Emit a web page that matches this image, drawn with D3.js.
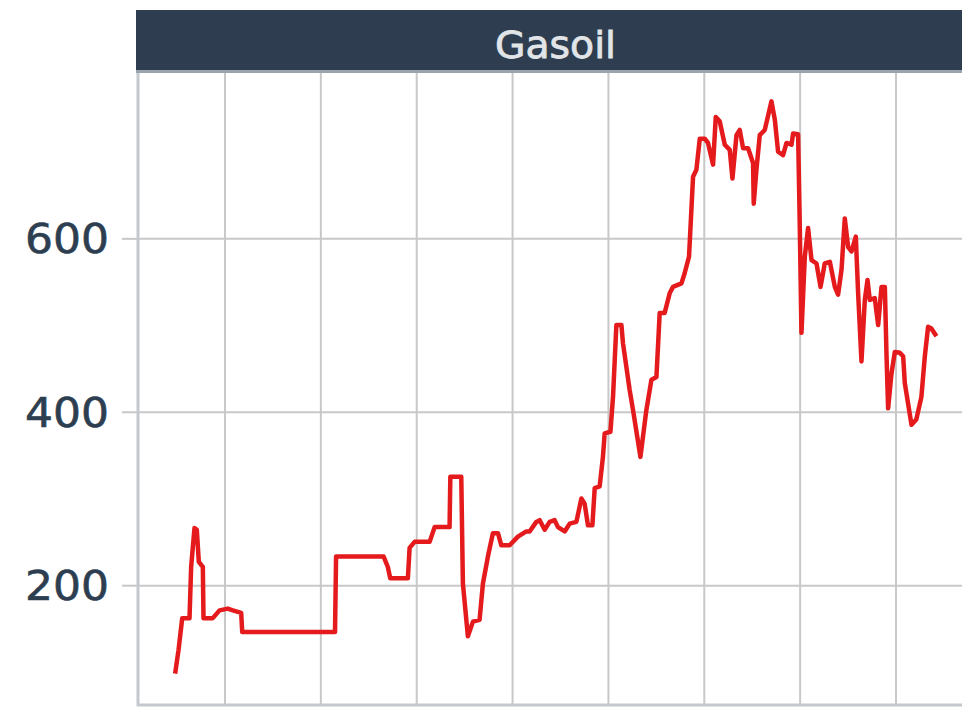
<!DOCTYPE html>
<html lang="fr">
<head>
  <meta charset="UTF-8" />
  <title>Gasoil</title>
  <script src="https://d3js.org/d3.v7.min.js"></script>
  <style>
    body { margin: 0; background: #fff; }
    svg { display: block; }
    .grid line { stroke: #c8c8c8; stroke-width: 2; }
    .grid .domain { display: none; }
    .yaxis line { stroke: #c8c8c8; stroke-width: 2; }
    .yaxis .domain { display: none; }
    .yaxis text { font-family: "DejaVu Sans", Verdana, sans-serif; font-size: 40px; fill: #2c3e50; stroke: #2c3e50; stroke-width: 0.6px; }
    .strip text { font-family: "DejaVu Sans", Verdana, sans-serif; font-size: 38px; fill: #e2e5e8; stroke: #e2e5e8; stroke-width: 0.8px; }
  </style>
</head>
<body>
  <div id="chart"></div>

  <script>
    const width = 962, height = 709;

    // panneau
    const panelTitle = "Gasoil";

    // dates (années décimales) et prix
    const years = [
      2000.485, 2000.520, 2000.559, 2000.635, 2000.652, 2000.687, 2000.711, 2000.732, 2000.774, 2000.781,
      2000.878, 2000.948, 2001.034, 2001.087, 2001.174, 2001.185, 2002.153, 2002.164, 2002.660, 2002.704,
      2002.729, 2002.913, 2002.931, 2002.983, 2003.140, 2003.192, 2003.348, 2003.356, 2003.470, 2003.487,
      2003.539, 2003.592, 2003.661, 2003.696, 2003.748, 2003.800, 2003.853, 2003.888, 2003.975, 2004.061,
      2004.149, 2004.183, 2004.253, 2004.288, 2004.340, 2004.392, 2004.444, 2004.479, 2004.549, 2004.601,
      2004.671, 2004.723, 2004.757, 2004.792, 2004.838, 2004.862, 2004.914, 2004.948, 2004.966, 2005.026,
      2005.053, 2005.088, 2005.141, 2005.157, 2005.227, 2005.262, 2005.339, 2005.401, 2005.454, 2005.506,
      2005.540, 2005.592, 2005.645, 2005.679, 2005.767, 2005.801, 2005.846, 2005.888, 2005.923, 2005.958,
      2006.010, 2006.044, 2006.097, 2006.125, 2006.166, 2006.219, 2006.271, 2006.299, 2006.341, 2006.375,
      2006.410, 2006.462, 2006.514, 2006.521, 2006.549, 2006.584, 2006.636, 2006.706, 2006.741, 2006.775,
      2006.827, 2006.863, 2006.915, 2006.932, 2006.984, 2007.001, 2007.019, 2007.054, 2007.088, 2007.124,
      2007.176, 2007.218, 2007.262, 2007.315, 2007.367, 2007.401, 2007.437, 2007.471, 2007.506, 2007.541,
      2007.586, 2007.610, 2007.645, 2007.680, 2007.708, 2007.732, 2007.784, 2007.819, 2007.854, 2007.889,
      2007.906, 2007.923, 2007.958, 2007.993, 2008.045, 2008.080, 2008.097, 2008.167, 2008.217, 2008.270,
      2008.306, 2008.340, 2008.374, 2008.427
    ];
    const gasoil = [
      98, 125, 162, 162, 221, 266, 264, 227, 221, 162,
      162, 171, 173, 171, 168, 146, 146, 233, 233, 221,
      208, 208, 243, 250, 250, 267, 267, 325, 325, 202,
      141, 158, 160, 202, 233, 260, 260, 246, 246, 256,
      262, 262, 273, 275, 264, 273, 275, 267, 262, 271,
      273, 300, 294, 269, 269, 312, 314, 348, 375, 377,
      417, 500, 500, 479, 425, 402, 348, 402, 437, 440,
      514, 514, 537, 544, 548, 560, 579, 671, 679, 715,
      715, 710, 685, 740, 735, 708, 702, 669, 719, 725,
      704, 704, 687, 640, 679, 719, 725, 758, 737, 700,
      696, 710, 708, 721, 720, 617, 491, 579, 612, 575,
      571, 544, 571, 573, 544, 535, 564, 623, 590, 585,
      602, 537, 458, 529, 552, 529, 531, 500, 544, 544,
      466, 404, 444, 469, 468, 464, 433, 385, 391, 417,
      464, 498, 496, 487
    ];

    // graduations
    const yTicks = [200, 400, 600];
    const xGrid = [2001, 2002, 2003, 2004, 2005, 2006, 2007, 2008];

    const panel = { left: 137, right: 962, top: 71, bottom: 704 };

    const x = d3.scaleLinear().domain([2001, 2008]).range([224.5, 895.5]);
    const y = d3.scaleLinear().domain([63, 793]).range([panel.bottom, panel.top]);

    const svg = d3.select('#chart').append('svg')
      .attr('width', width)
      .attr('height', height);

    svg.append('defs').append('clipPath').attr('id', 'clip')
      .append('rect')
      .attr('x', panel.left).attr('y', panel.top)
      .attr('width', panel.right - panel.left).attr('height', panel.bottom - panel.top);

    // grille verticale
    svg.append('g').attr('class', 'grid')
      .attr('transform', `translate(0,${panel.bottom})`)
      .call(d3.axisBottom(x).tickValues(xGrid).tickSize(-(panel.bottom - panel.top)).tickFormat(''));

    // grille horizontale
    svg.append('g').attr('class', 'grid')
      .attr('transform', `translate(${panel.left},0)`)
      .call(d3.axisLeft(y).tickValues(yTicks).tickSize(-(panel.right - panel.left)).tickFormat(''));

    // axe des y
    const yAxis = svg.append('g').attr('class', 'yaxis')
      .attr('transform', `translate(${panel.left},0)`)
      .call(d3.axisLeft(y).tickValues(yTicks).tickSize(15).tickPadding(13));
    yAxis.selectAll('text').attr('dy', '0.36em')
      .attr('textLength', 84).attr('lengthAdjust', 'spacingAndGlyphs');

    // bordures du panneau
    svg.append('line')
      .attr('x1', panel.left + 1).attr('x2', panel.left + 1)
      .attr('y1', panel.top).attr('y2', panel.bottom + 2)
      .attr('stroke', '#c4c9cf').attr('stroke-width', 3);
    svg.append('line')
      .attr('x1', panel.left).attr('x2', panel.right)
      .attr('y1', panel.bottom + 1).attr('y2', panel.bottom + 1)
      .attr('stroke', '#c4c9cf').attr('stroke-width', 3);

    // courbe
    const pts = years.map((t, i) => [t, gasoil[i]]);
    const line = d3.line().x(d => x(d[0])).y(d => y(d[1]));
    svg.append('path')
      .datum(pts)
      .attr('clip-path', 'url(#clip)')
      .attr('d', line)
      .attr('fill', 'none')
      .attr('stroke', '#e41a1c')
      .attr('stroke-width', 4.5)
      .attr('stroke-linejoin', 'round');

    // bandeau du titre
    const strip = svg.append('g').attr('class', 'strip');
    strip.append('rect')
      .attr('x', panel.left - 1).attr('y', 10)
      .attr('width', panel.right - panel.left + 1).attr('height', panel.top - 10)
      .attr('fill', '#2e3e50');
    strip.append('line')
      .attr('x1', panel.left - 1).attr('x2', panel.right)
      .attr('y1', panel.top + 0.5).attr('y2', panel.top + 0.5)
      .attr('stroke', '#9aa4ae').attr('stroke-width', 3);
    strip.append('text')
      .attr('x', 555.5).attr('y', 58)
      .attr('text-anchor', 'middle')
      .attr('textLength', 121).attr('lengthAdjust', 'spacingAndGlyphs')
      .text(panelTitle);
  </script>
</body>
</html>
